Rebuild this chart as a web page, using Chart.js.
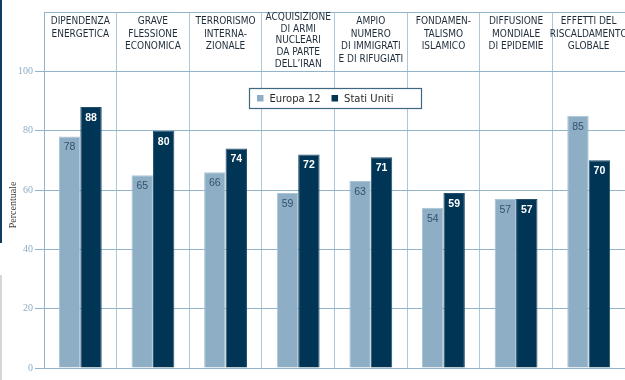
<!DOCTYPE html>
<html>
<head>
<meta charset="utf-8">
<script src="https://cdn.jsdelivr.net/npm/chart.js@4/dist/chart.umd.min.js"></script>
<style>
  html, body { margin: 0; padding: 0; background: #fff; }
  #wrap { position: relative; width: 625px; height: 380px; overflow: hidden; }
  #c { display: block; }
  .edge-top { position: absolute; left: 0; top: 0; width: 2px; height: 243px; background: #0d3e61; }
  .edge-bottom { position: absolute; left: 0; top: 275px; width: 2px; height: 105px; background: #d6d6d6; }
</style>
</head>
<body>
<div id="wrap">
  <canvas id="c" width="625" height="380"></canvas>
  <div class="edge-top"></div>
  <div class="edge-bottom"></div>
</div>
<script>
// Category headings (one array entry per printed line)
const categories = [
  ['DIPENDENZA', 'ENERGETICA'],
  ['GRAVE', 'FLESSIONE', 'ECONOMICA'],
  ['TERRORISMO', 'INTERNA-', 'ZIONALE'],
  ['ACQUISIZIONE', 'DI ARMI', 'NUCLEARI', 'DA PARTE', 'DELL\u2019IRAN'],
  ['AMPIO', 'NUMERO', 'DI IMMIGRATI', 'E DI RIFUGIATI'],
  ['FONDAMEN-', 'TALISMO', 'ISLAMICO'],
  ['DIFFUSIONE', 'MONDIALE', 'DI EPIDEMIE'],
  ['EFFETTI DEL', 'RISCALDAMENTO', 'GLOBALE']
];
const seriesNames = ['Europa 12', 'Stati Uniti'];
const europa12 = [78, 65, 66, 59, 63, 54, 57, 85];
const statiUniti = [88, 80, 74, 72, 71, 59, 57, 70];
const yTicks = [0, 20, 40, 60, 80, 100];
const yTop = 120;          // upper band holds the headings
const axisTitle = 'Percentuale';

const COL_EU = '#8daec4';
const COL_US = '#003555';
const GRID_H = '#93b3ca';
const GRID_V = '#aec7d8';

// Headings drawn inside the top band of each category column
const headerPlugin = {
  id: 'headers',
  afterDraw(chart) {
    const { ctx, scales: { x } } = chart;
    ctx.save();
    ctx.fillStyle = '#1e2c3a';
    ctx.font = '10px "Liberation Sans Narrow", "Arial Narrow", "DejaVu Sans Condensed", sans-serif';
    ctx.textAlign = 'center';
    ctx.textBaseline = 'middle';
    categories.forEach((lines, i) => {
      const cx = x.getPixelForValue(i);
      const n = lines.length;
      const step = n > 4 ? 11.7 : 12.6;
      const start = n > 4 ? 17.3 : 21.7;
      lines.forEach((t, k) => ctx.fillText(t, cx, start + k * step));
    });
    ctx.restore();
  }
};

// Values printed just below the top of each bar
const valuePlugin = {
  id: 'values',
  afterDatasetsDraw(chart) {
    const { ctx } = chart;
    ctx.save();
    ctx.textAlign = 'center';
    ctx.textBaseline = 'middle';
    chart.data.datasets.forEach((ds, di) => {
      const meta = chart.getDatasetMeta(di);
      ctx.fillStyle = di === 0 ? '#33526e' : '#ffffff';
      ctx.font = (di === 0 ? '' : 'bold ') + '10.5px "Liberation Sans", Arial, sans-serif';
      meta.data.forEach((bar, i) => {
        ctx.fillText(String(ds.data[i]), bar.x, bar.y + 11);
      });
    });
    ctx.restore();
  }
};

// Boxed legend centred in the plot, under the 100 line
const legendPlugin = {
  id: 'boxLegend',
  afterDraw(chart) {
    const { ctx, chartArea, scales: { y } } = chart;
    const w = 172, h = 20;
    const left = Math.round((chartArea.left + chartArea.right) / 2 - w / 2) + 0.5;
    const top = Math.round(y.getPixelForValue(100) + 17) + 0.5;
    ctx.save();
    ctx.fillStyle = '#ffffff';
    ctx.fillRect(left, top, w, h);
    ctx.strokeStyle = '#3e6784';
    ctx.lineWidth = 1.2;
    ctx.strokeRect(left, top, w, h);
    ctx.font = '10px "DejaVu Sans", Verdana, sans-serif';
    ctx.textBaseline = 'middle';
    ctx.textAlign = 'left';
    let xx = left + 7.5;
    const cy = top + h / 2;
    chart.data.datasets.forEach((ds, di) => {
      ctx.fillStyle = ds.backgroundColor;
      ctx.fillRect(xx, cy - 3.5, 6.5, 6.5);
      xx += 12.5;
      ctx.fillStyle = '#2a2a2a';
      ctx.fillText(ds.label, xx, cy + 0.5);
      xx += ctx.measureText(ds.label).width + 11;
    });
    ctx.restore();
  }
};

// Rotated axis title
const titlePlugin = {
  id: 'yTitle',
  afterDraw(chart) {
    const { ctx } = chart;
    ctx.save();
    ctx.translate(13, 205);
    ctx.rotate(-Math.PI / 2);
    ctx.fillStyle = '#3c3c3c';
    ctx.font = '10px "Liberation Serif", "Times New Roman", serif';
    ctx.textAlign = 'center';
    ctx.textBaseline = 'middle';
    ctx.fillText(axisTitle, 0, 0);
    ctx.restore();
  }
};

new Chart(document.getElementById('c'), {
  type: 'bar',
  data: {
    labels: categories.map(l => l.join(' ')),
    datasets: [
      { label: seriesNames[0], data: europa12, backgroundColor: COL_EU, borderColor: '#abc4d6', borderWidth: 1 },
      { label: seriesNames[1], data: statiUniti, backgroundColor: COL_US, borderColor: '#24506d', borderWidth: 1 }
    ]
  },
  options: {
    responsive: false,
    animation: false,
    events: [],
    layout: { padding: { left: 0, right: 0, top: 12, bottom: 12 } },
    datasets: { bar: { categoryPercentage: 0.59, barPercentage: 1.0 } },
    plugins: { legend: { display: false }, tooltip: { enabled: false }, title: { display: false } },
    scales: {
      x: {
        grid: { color: GRID_V, drawTicks: false, offset: true, lineWidth: 1 },
        border: { display: false },
        ticks: { display: false }
      },
      y: {
        min: 0,
        max: yTop,
        afterBuildTicks: s => { s.ticks = yTicks.concat([yTop]).map(v => ({ value: v })); },
        afterFit: s => { s.width = 44; },
        ticks: {
          callback: v => (v === yTop ? '' : v),
          color: '#8eaec6',
          font: { family: '"Liberation Serif", "Times New Roman", serif', size: 10 },
          padding: 2
        },
        grid: {
          color: GRID_H,
          tickLength: 9,
          tickColor: c => (c.tick && c.tick.value === yTop ? 'rgba(0,0,0,0)' : GRID_H)
        },
        border: { color: GRID_H }
      }
    }
  },
  plugins: [headerPlugin, valuePlugin, legendPlugin, titlePlugin]
});
</script>
</body>
</html>
